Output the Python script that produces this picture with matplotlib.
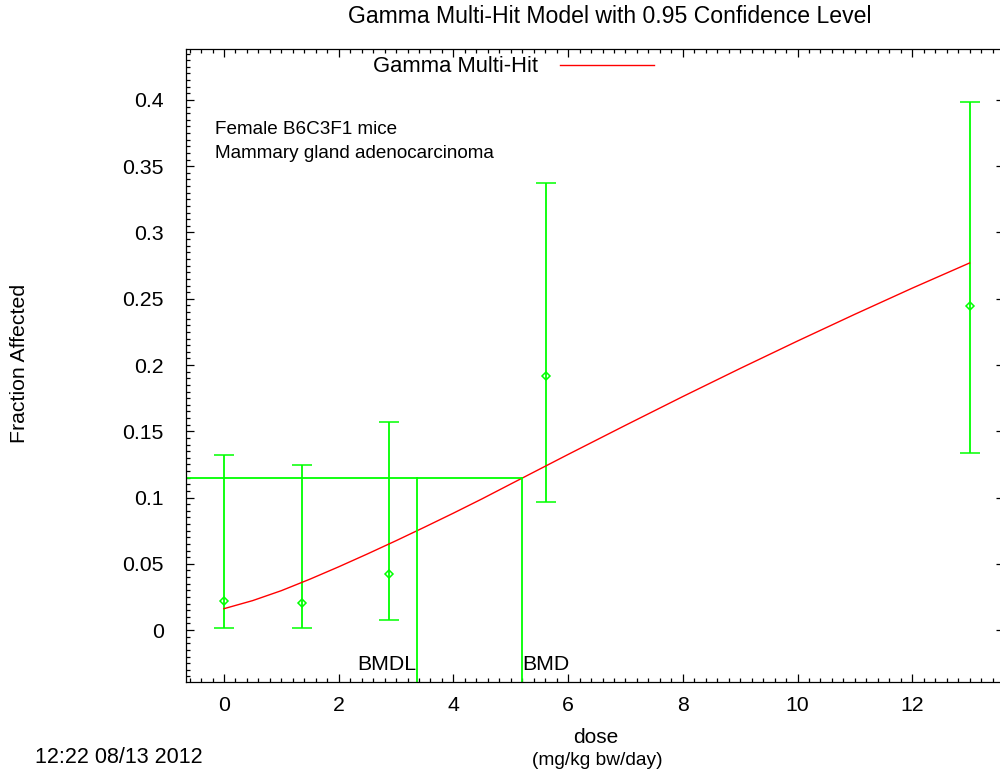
import numpy as np
import matplotlib
matplotlib.use('Agg')
import matplotlib.pyplot as plt
from matplotlib.ticker import MultipleLocator

plt.rcParams['font.family'] = ['Liberation Sans', 'DejaVu Sans']

# observed data (dose, fraction affected, 95% limits)
dose = [0.0, 1.36, 2.88, 5.61, 13.0]
frac = [0.0221, 0.0206, 0.0425, 0.1917, 0.2445]
lower = [0.0013, 0.0013, 0.0073, 0.0966, 0.1338]
upper = [0.1320, 0.1245, 0.1570, 0.3370, 0.3985]

# fitted gamma multi-hit curve
curve_dose = [0.0, 0.5, 1.0, 1.5, 2.0, 2.5, 3.0, 3.5, 4.0, 4.5, 5.0, 6.0, 7.0,
              8.0, 9.0, 10.0, 11.0, 12.0, 13.0]
curve_frac = [0.0161, 0.0222, 0.0297, 0.0384, 0.0477, 0.0574, 0.0674, 0.0777,
              0.0882, 0.0990, 0.1102, 0.1325, 0.1545, 0.1762, 0.1974, 0.2181,
              0.2383, 0.2580, 0.2770]

bmd = 5.20
bmdl = 3.36
bmr_resp = 0.1147

xlo, xhi = -0.6625, 13.60
ylo, yhi = -0.039, 0.4385

green = '#00ff00'

fig = plt.figure(figsize=(10, 7.75), dpi=100)
ax = fig.add_axes([0.186, 0.1204, 0.818, 0.8164])

yerr = [np.array(frac) - np.array(lower), np.array(upper) - np.array(frac)]
ax.errorbar(dose, frac, yerr=yerr, fmt='D', color=green, ms=4.5, mfc='none',
            mew=1.1, elinewidth=1.3, capsize=7.4, capthick=1.3)

line, = ax.plot(curve_dose, curve_frac, color='red', lw=1.0, label='Gamma Multi-Hit')

# BMD / BMDL markers
ax.plot([xlo, bmd], [bmr_resp, bmr_resp], color=green, lw=1.3)
ax.plot([bmd, bmd], [bmr_resp, ylo], color=green, lw=1.3)
ax.plot([bmdl, bmdl], [bmr_resp, ylo], color=green, lw=1.3)
ax.text(bmdl, -0.0302, 'BMDL', ha='right', va='baseline', fontsize=15.3)
ax.text(bmd, -0.0302, 'BMD', ha='left', va='baseline', fontsize=15.3)

ax.set_xlim(xlo, xhi)
ax.set_ylim(ylo, yhi)
ax.xaxis.set_major_locator(MultipleLocator(2))
ax.xaxis.set_minor_locator(MultipleLocator(0.2))
ax.yaxis.set_major_locator(MultipleLocator(0.05))
ax.yaxis.set_minor_locator(MultipleLocator(0.005))
ax.yaxis.set_major_formatter(plt.FuncFormatter(lambda v, p: ('%g' % round(v, 3))))
ax.tick_params(which='both', direction='in', top=True, right=True, width=0.9)
ax.tick_params(which='major', length=5.8, labelsize=15.3)
ax.tick_params(axis='y', which='major', pad=16)
ax.tick_params(axis='x', which='major', pad=10.5)
ax.tick_params(which='minor', length=2.9)
for s in ax.spines.values():
    s.set_linewidth(0.9)

ax.legend(handles=[line], loc='center right', bbox_to_anchor=(0.654, 1 - 67 / 775),
          bbox_transform=fig.transFigure, frameon=False, markerfirst=False,
          fontsize=15.8, handlelength=4.3, handletextpad=1.0, borderpad=0,
          borderaxespad=0)

fig.text(0.610, 1 - 22.7 / 775, 'Gamma Multi-Hit Model with 0.95 Confidence Level',
         ha='center', va='baseline', fontsize=16.6)
fig.text(0.215, 1 - 133.5 / 775, 'Female B6C3F1 mice', ha='left', va='baseline', fontsize=13.6)
fig.text(0.215, 1 - 157.5 / 775, 'Mammary gland adenocarcinoma', ha='left', va='baseline', fontsize=13.6)
fig.text(0.020, 1 - 363 / 775, 'Fraction Affected', rotation=90, ha='center', va='center',
         fontsize=15.3)
fig.text(0.5955, 1 - 742.7 / 775, 'dose', ha='center', va='baseline', fontsize=15)
fig.text(0.5975, 1 - 765 / 775, '(mg/kg bw/day)', ha='center', va='baseline', fontsize=13.8)
fig.text(0.035, 1 - 763 / 775, '12:22 08/13 2012', ha='left', va='baseline', fontsize=15.5)

fig.savefig('out.png', dpi=100)
